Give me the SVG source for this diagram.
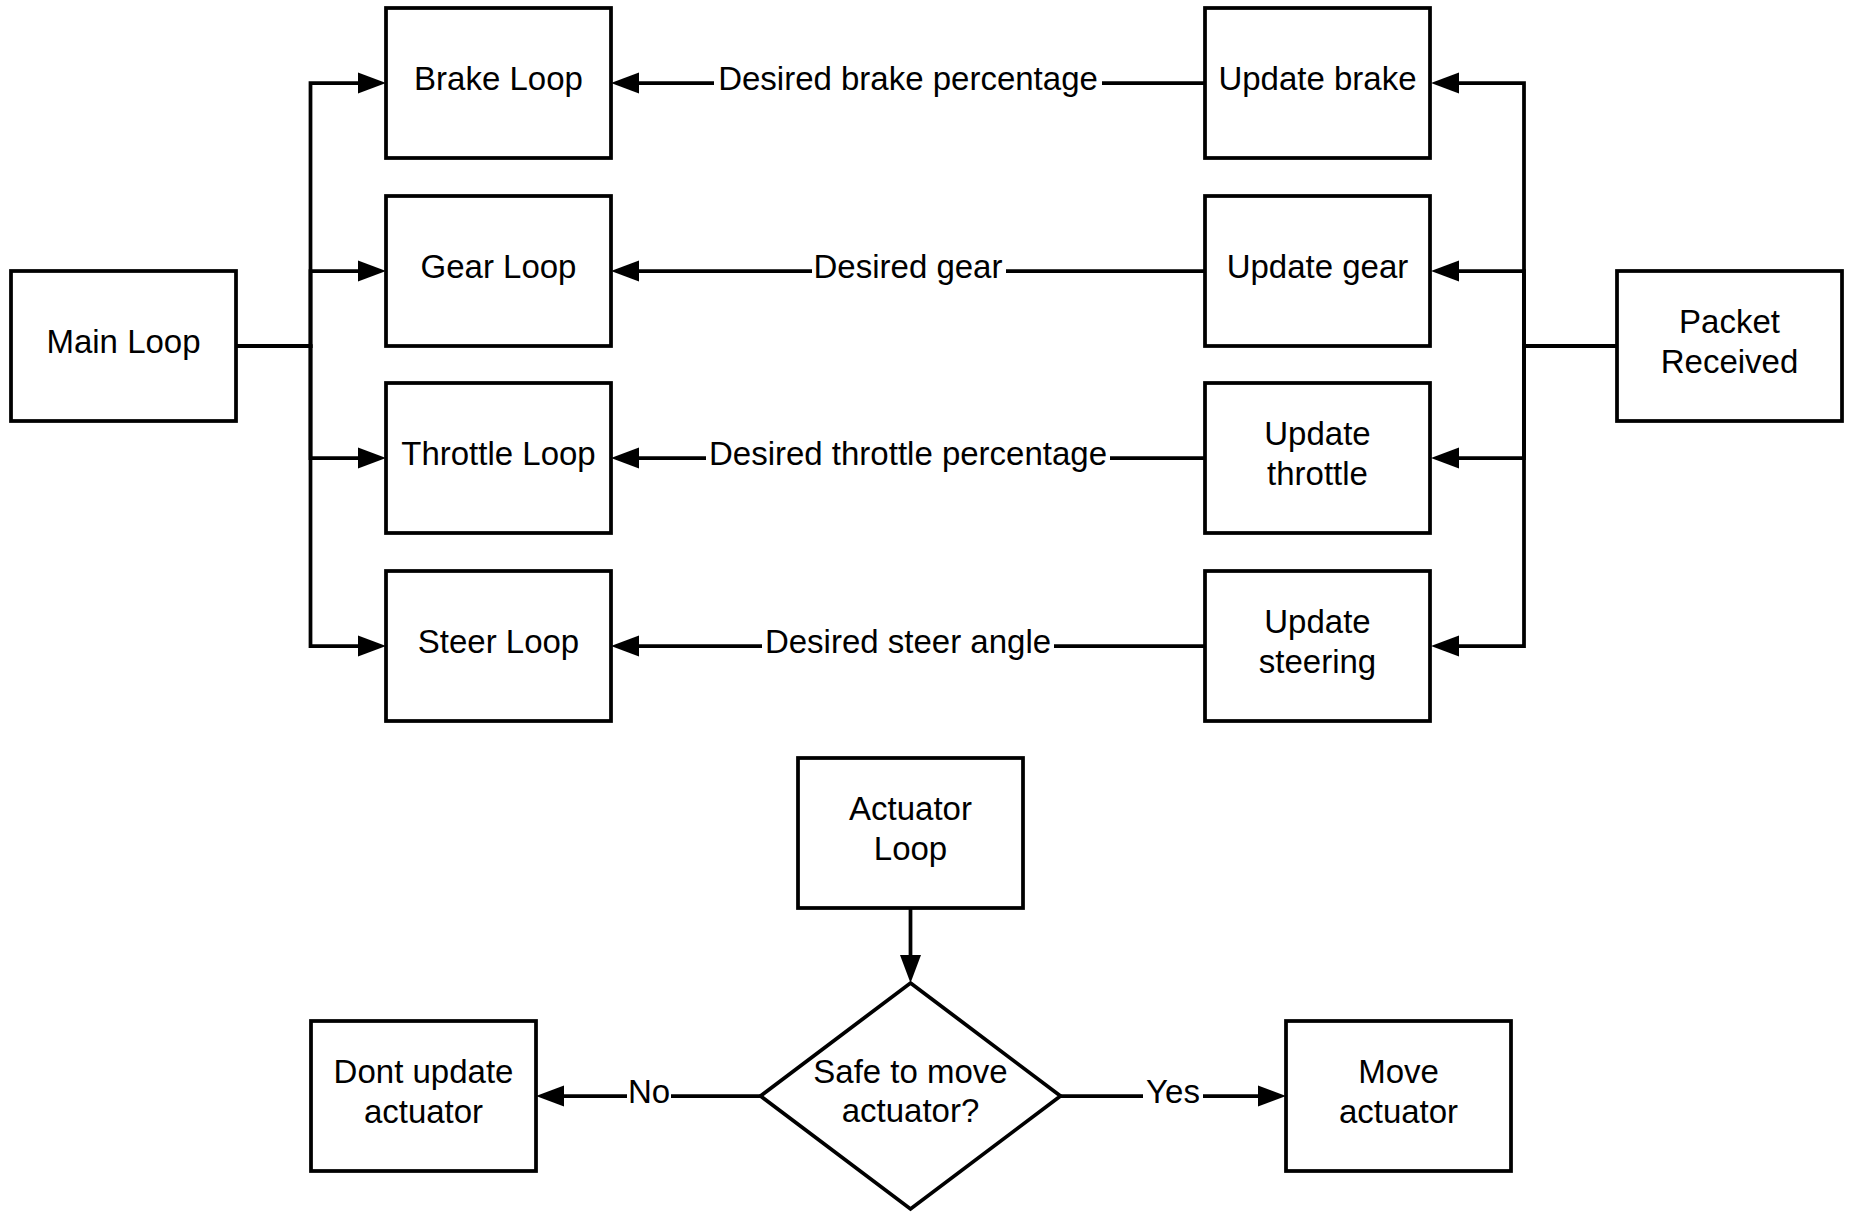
<svg xmlns="http://www.w3.org/2000/svg" width="1852" height="1227" viewBox="0 0 1852 1227">
<style>
.box{fill:#fff;stroke:#000;stroke-width:3.75}
.t{font-family:"Liberation Sans",Arial,sans-serif;font-size:33px;fill:#000;text-anchor:middle}
.e{fill:none;stroke:#000;stroke-width:3.75;stroke-linejoin:miter}
.lb{fill:#fff;stroke:none}
</style>
<defs>
<marker id="arr" markerUnits="userSpaceOnUse" markerWidth="30" markerHeight="24" refX="0" refY="10.5" orient="auto" overflow="visible">
<path d="M0,0 L28,10.5 L0,21 Z" fill="#000"/>
</marker>
</defs>
<rect width="1852" height="1227" fill="#fff"/>
<g id="connectors">
<path class="e" d="M236,346 H310.5 V83 H358" marker-end="url(#arr)"/>
<path class="e" d="M236,346 H310.5 V271 H358" marker-end="url(#arr)"/>
<path class="e" d="M236,346 H310.5 V458 H358" marker-end="url(#arr)"/>
<path class="e" d="M236,346 H310.5 V646 H358" marker-end="url(#arr)"/>
<path class="e" d="M1617,346 H1524 V83 H1459" marker-end="url(#arr)"/>
<path class="e" d="M1617,346 H1524 V271 H1459" marker-end="url(#arr)"/>
<path class="e" d="M1617,346 H1524 V458 H1459" marker-end="url(#arr)"/>
<path class="e" d="M1617,346 H1524 V646 H1459" marker-end="url(#arr)"/>
<path class="e" d="M1205,83 H639" marker-end="url(#arr)"/>
<rect class="lb" x="714" y="65" width="388" height="36"/>
<text class="t" x="908" y="90">Desired brake percentage</text>
<path class="e" d="M1205,271 H639" marker-end="url(#arr)"/>
<rect class="lb" x="812" y="253" width="194" height="36"/>
<text class="t" x="908" y="278">Desired gear</text>
<path class="e" d="M1205,458 H639" marker-end="url(#arr)"/>
<rect class="lb" x="706" y="440" width="404" height="36"/>
<text class="t" x="908" y="465">Desired throttle percentage</text>
<path class="e" d="M1205,646 H639" marker-end="url(#arr)"/>
<rect class="lb" x="762" y="628" width="292" height="36"/>
<text class="t" x="908" y="653">Desired steer angle</text>
<path class="e" d="M910.5,908 V955" marker-end="url(#arr)"/>
<path class="e" d="M760.5,1096 H564" marker-end="url(#arr)"/>
<rect class="lb" x="627" y="1078" width="44" height="36"/>
<text class="t" x="649" y="1103">No</text>
<path class="e" d="M1060.5,1096 H1258" marker-end="url(#arr)"/>
<rect class="lb" x="1143" y="1078" width="60" height="36"/>
<text class="t" x="1173" y="1103">Yes</text>
</g>
<g id="main-loop"><rect class="box" x="11" y="271" width="225" height="150"/><text class="t" x="123.5" y="353">Main Loop</text></g>
<g id="brake-loop"><rect class="box" x="386" y="8" width="225" height="150"/><text class="t" x="498.5" y="90">Brake Loop</text></g>
<g id="gear-loop"><rect class="box" x="386" y="196" width="225" height="150"/><text class="t" x="498.5" y="278">Gear Loop</text></g>
<g id="throttle-loop"><rect class="box" x="386" y="383" width="225" height="150"/><text class="t" x="498.5" y="465">Throttle Loop</text></g>
<g id="steer-loop"><rect class="box" x="386" y="571" width="225" height="150"/><text class="t" x="498.5" y="653">Steer Loop</text></g>
<g id="update-brake"><rect class="box" x="1205" y="8" width="225" height="150"/><text class="t" x="1317.5" y="90">Update brake</text></g>
<g id="update-gear"><rect class="box" x="1205" y="196" width="225" height="150"/><text class="t" x="1317.5" y="278">Update gear</text></g>
<g id="update-throttle"><rect class="box" x="1205" y="383" width="225" height="150"/><text class="t" x="1317.5" y="445">Update</text><text class="t" x="1317.5" y="485">throttle</text></g>
<g id="update-steering"><rect class="box" x="1205" y="571" width="225" height="150"/><text class="t" x="1317.5" y="633">Update</text><text class="t" x="1317.5" y="673">steering</text></g>
<g id="packet-received"><rect class="box" x="1617" y="271" width="225" height="150"/><text class="t" x="1729.5" y="333">Packet</text><text class="t" x="1729.5" y="373">Received</text></g>
<g id="actuator-loop"><rect class="box" x="798" y="758" width="225" height="150"/><text class="t" x="910.5" y="820">Actuator</text><text class="t" x="910.5" y="860">Loop</text></g>
<g id="safe-decision"><polygon class="box" points="910.5,983 1060.5,1096 910.5,1209 760.5,1096"/><text class="t" x="910.5" y="1083">Safe to move</text><text class="t" x="910.5" y="1122">actuator?</text></g>
<g id="dont-update"><rect class="box" x="311" y="1021" width="225" height="150"/><text class="t" x="423.5" y="1083">Dont update</text><text class="t" x="423.5" y="1123">actuator</text></g>
<g id="move-actuator"><rect class="box" x="1286" y="1021" width="225" height="150"/><text class="t" x="1398.5" y="1083">Move</text><text class="t" x="1398.5" y="1123">actuator</text></g>
</svg>
